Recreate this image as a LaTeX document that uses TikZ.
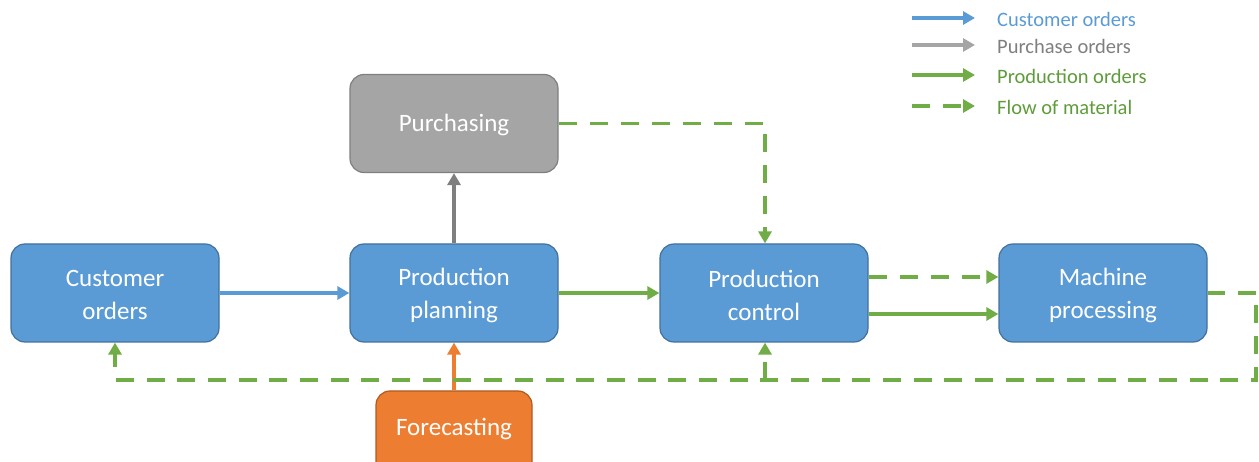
\documentclass[tikz,border=0pt]{standalone}
\usepackage{fontspec}
\setmainfont{Carlito}
\usetikzlibrary{arrows.meta}
\definecolor{cblue}{HTML}{5B9BD5}
\definecolor{cblueb}{HTML}{41719C}
\definecolor{cgray}{HTML}{A5A5A5}
\definecolor{cgrayb}{HTML}{7F7F7F}
\definecolor{cgrayd}{HTML}{7F7F7F}
\definecolor{corange}{HTML}{ED7D31}
\definecolor{corangeb}{HTML}{AE5A21}
\definecolor{cgreen}{HTML}{70AD47}
\definecolor{cgreent}{HTML}{5E9C3A}
\tikzset{
  box/.style={draw=cblueb, fill=cblue, line width=1.2pt, rounded corners=14pt,
    minimum width=208pt, minimum height=98pt, text=white, align=center,
    font=\fontsize{25}{33}\selectfont, inner sep=0pt},
  lab/.style={text=white, align=center, font=\fontsize{25}{33}\selectfont, inner sep=0pt},
  arr/.style={line width=3.5pt, -{Triangle[length=12pt,width=13pt]}},
  flow/.style={arr, draw=cgreen, dash pattern=on 18pt off 13pt},
  legtext/.style={anchor=west, font=\fontsize{20.5}{24}\selectfont, inner sep=0pt}
}
\begin{document}
\begin{tikzpicture}[x=1pt,y=-1pt]
\useasboundingbox (0,0) rectangle (1259,462);
% nodes
\node[box] (co) at (115,293) {};
\node[box] (pp) at (454,293) {};
\node[box] (pc) at (764,293) {};
\node[box] (mp) at (1103,293) {};
\node[box, fill=cgray, draw=cgrayb] (pu) at (454,123.5) {};
\node[box, fill=corange, draw=corangeb, minimum width=156pt] (fo) at (454,440) {};
\node[lab] (col) at (115,295) {Customer\\orders};
\node[lab] (ppl) at (454,295) {Production\\planning};
\node[lab] (pcl) at (764,295) {Production\\control};
\node[lab] (mpl) at (1103,295) {Machine\\processing};
\node[lab] (pul) at (454,125) {Purchasing};
\node[lab] (fol) at (454,429) {Forecasting};
% connectors
\draw[arr, draw=cblue] (co.east) -- (pp.west);
\draw[arr, draw=cgrayd] (pp.north) -- (pu.south);
\draw[arr, draw=cgreen] (pp.east) -- (pc.west);
\draw[arr, draw=corange] (fo.north) -- (pp.south);
\coordinate (pc1) at (765,123.5);
\draw[flow] (pu.east) -- (pc1) -- (pc1 |- pc.north);
\draw[flow] ([yshift=16pt]pc.east) -- ([yshift=16pt]mp.west);
\draw[arr, draw=cgreen] ([yshift=-21pt]pc.east) -- ([yshift=-21pt]mp.west);
\coordinate (r1) at (1256,293);
\coordinate (r2) at (1256,380);
\coordinate (b1) at (765,380);
\coordinate (b2) at (116,380);
\coordinate (b3) at (115,367);
\draw[flow, -, dash pattern=on 18pt off 12.68pt] (b2) -- (r2) -- (r1) -- (mp.east);
\draw[arr, draw=cgreen] (b3) -- (co.south);
\draw[flow] (b1) -- (b1 |- pc.south);
% legend
\coordinate (l1a) at (912,18);  \coordinate (l1b) at (975,18);
\coordinate (l2a) at (912,45);  \coordinate (l2b) at (975,45);
\coordinate (l3a) at (912,75);  \coordinate (l3b) at (975,75);
\coordinate (l4a) at (912,106); \coordinate (l4b) at (975,106);
\draw[arr, draw=cblue] (l1a) -- (l1b);
\draw[arr, draw=cgray] (l2a) -- (l2b);
\draw[arr, draw=cgreen] (l3a) -- (l3b);
\draw[flow] (l4a) -- (l4b);
\node[legtext, text=cblue] (t1) at (997,19) {Customer orders};
\node[legtext, text=cgrayd] (t2) at (997,46) {Purchase orders};
\node[legtext, text=cgreent] (t3) at (997,76) {Production orders};
\node[legtext, text=cgreent] (t4) at (997,107) {Flow of material};
\end{tikzpicture}
\end{document}
